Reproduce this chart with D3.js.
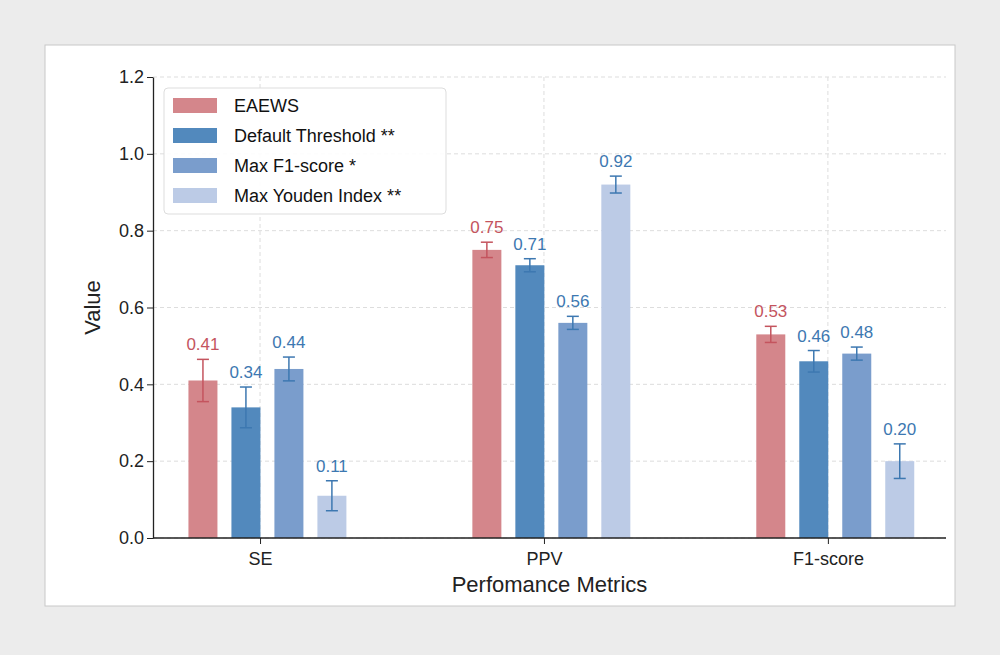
<!DOCTYPE html><html><head><meta charset="utf-8"><script src="https://cdn.jsdelivr.net/npm/d3@7"></script>
<style>body{margin:0;background:#ececec;font-family:"Liberation Sans",Arial,sans-serif}</style></head><body><svg id="c" width="1000" height="655" font-family="Liberation Sans, Arial, sans-serif"></svg><script>
const categories=["SE","PPV","F1-score"];
const seriesNames=["EAEWS","Default Threshold **","Max F1-score *","Max Youden Index **"];
const values=[[0.41,0.34,0.44,0.11],[0.75,0.71,0.56,0.92],[0.53,0.46,0.48,0.20]];
const errors=[[0.055,0.053,0.031,0.039],[0.02,0.017,0.017,0.022],[0.021,0.028,0.017,0.045]];
const yTicks=[0,0.2,0.4,0.6,0.8,1.0,1.2];
const colors=["#d4868b","#5289bd","#7a9dcc","#bccbe6"];
const labelColors=["#c4545e","#3d78b1","#3d78b1","#3d78b1"];
const svg=d3.select("#c");
svg.append("rect").attr("x",0).attr("y",0).attr("width",1000).attr("height",655).attr("fill","#ececec");
svg.append("rect").attr("x",45).attr("y",45).attr("width",910).attr("height",561).attr("fill","#fff").attr("stroke","#c8c8c8");
const L=153,R=946,T=77,B=538;
const x=d3.scaleLinear().domain([-0.377,2.416]).range([L,R]);
const y=d3.scaleLinear().domain([0,1.2]).range([B,T]);
const g=svg.append("g");
yTicks.forEach(t=>g.append("line").attr("x1",L).attr("x2",R).attr("y1",y(t)).attr("y2",y(t)).attr("stroke","#ddd").attr("stroke-dasharray","4,3"));
categories.forEach((c,i)=>g.append("line").attr("x1",x(i)).attr("x2",x(i)).attr("y1",T).attr("y2",B).attr("stroke","#ddd").attr("stroke-dasharray","4,3"));
const off=[-1.5,-0.5,0.5,1.5], step=0.1514, bw=29, shift=0.026;
categories.forEach((c,i)=>{values[i].forEach((v,j)=>{
 const cx=x(i+shift+off[j]*step);
 g.append("rect").attr("x",cx-bw/2).attr("y",y(v)).attr("width",bw).attr("height",B-y(v)).attr("fill",colors[j]);
 const e=errors[i][j];
 g.append("line").attr("x1",cx).attr("x2",cx).attr("y1",y(v-e)).attr("y2",y(v+e)).attr("stroke",labelColors[j]).attr("stroke-width",1.5);
 [v-e,v+e].forEach(q=>g.append("line").attr("x1",cx-6).attr("x2",cx+6).attr("y1",y(q)).attr("y2",y(q)).attr("stroke",labelColors[j]).attr("stroke-width",1.5));
 g.append("text").attr("x",cx).attr("y",y(v+e)-9).attr("text-anchor","middle").attr("font-size",17).attr("fill",labelColors[j]).text(v.toFixed(2));
});});
const ya=svg.append("g").attr("transform",`translate(${L},0)`).call(d3.axisLeft(y).tickValues(yTicks).tickFormat(d3.format(".1f")).tickSizeOuter(0));
const xa=svg.append("g").attr("transform",`translate(0,${B})`).call(d3.axisBottom(x).tickValues([0,1,2]).tickFormat(i=>categories[i]).tickSizeOuter(0));
[ya,xa].forEach(a=>{a.selectAll("text").attr("font-size",18).attr("font-family","Liberation Sans, Arial, sans-serif").attr("fill","#222");a.select(".domain").attr("stroke","#222").attr("stroke-width",1.3);a.selectAll(".tick line").attr("stroke","#222");});
xa.selectAll("text").attr("dy","1em");
xa.select(".domain").attr("d",`M${L},0H${R}`);
svg.append("text").attr("x",(L+R)/2).attr("y",592).attr("text-anchor","middle").attr("font-size",22).attr("fill","#222").text("Perfomance Metrics");
svg.append("text").attr("transform",`translate(100,${(T+B)/2}) rotate(-90)`).attr("text-anchor","middle").attr("font-size",22).attr("fill","#222").text("Value");
const lg=svg.append("g").attr("transform","translate(164,88)");
lg.append("rect").attr("width",282).attr("height",126).attr("rx",4).attr("fill","#fff").attr("fill-opacity",0.9).attr("stroke","#ddd");
seriesNames.forEach((n,j)=>{
 lg.append("rect").attr("x",9).attr("y",10+j*30).attr("width",44).attr("height",15).attr("fill",colors[j]);
 lg.append("text").attr("x",70).attr("y",24+j*30).attr("font-size",18).attr("fill","#111").text(n);
});
</script></body></html>
